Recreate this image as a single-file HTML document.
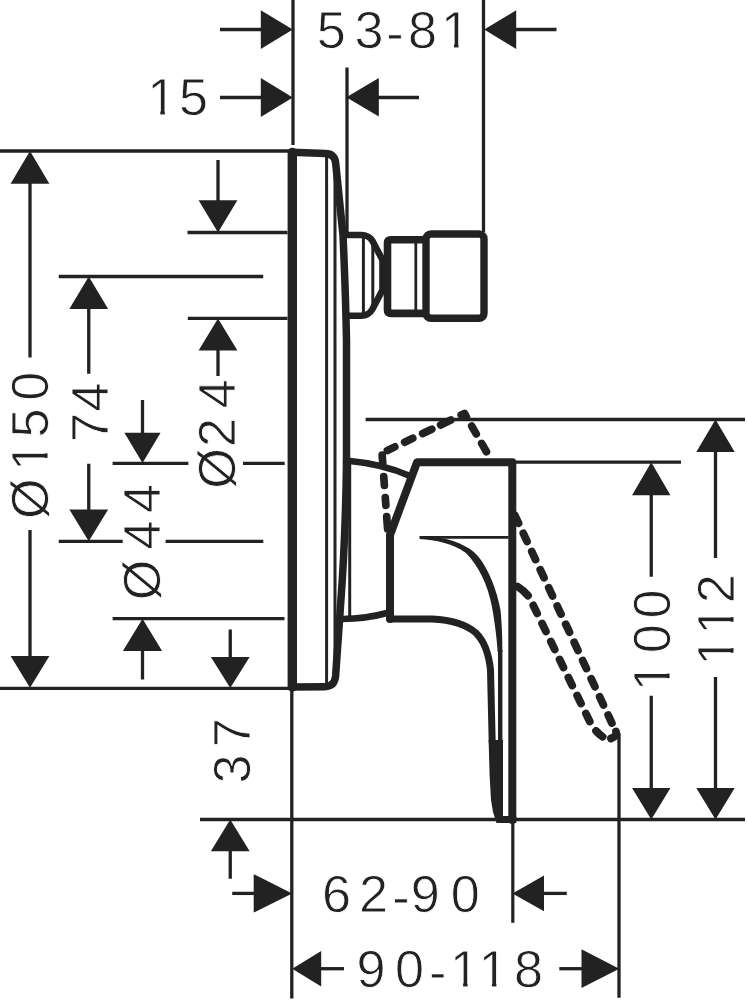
<!DOCTYPE html>
<html><head><meta charset="utf-8"><title>Dimension drawing</title>
<style>
html,body{margin:0;padding:0;background:#fff;}
svg{display:block;}
text{font-family:"Liberation Sans",sans-serif;font-size:52.2px;fill:#222;stroke:#fff;stroke-width:0.8px;}
</style></head><body>
<svg width="747" height="1000" viewBox="0 0 747 1000">
<rect width="747" height="1000" fill="#fff"/>
<line x1="293" y1="0" x2="293" y2="145" stroke="#222" stroke-width="3.3" stroke-linecap="butt"/>
<line x1="347" y1="67.5" x2="347" y2="233" stroke="#222" stroke-width="3.3" stroke-linecap="butt"/>
<line x1="483.5" y1="0" x2="483.5" y2="232" stroke="#222" stroke-width="3.3" stroke-linecap="butt"/>
<line x1="0" y1="151" x2="290" y2="151" stroke="#222" stroke-width="3.3" stroke-linecap="butt"/>
<line x1="187.5" y1="232.5" x2="287.5" y2="232.5" stroke="#222" stroke-width="3.3" stroke-linecap="butt"/>
<line x1="58.75" y1="276.5" x2="263.25" y2="276.5" stroke="#222" stroke-width="3.3" stroke-linecap="butt"/>
<line x1="187.8" y1="318.4" x2="287.5" y2="318.4" stroke="#222" stroke-width="3.3" stroke-linecap="butt"/>
<line x1="112.6" y1="463.4" x2="188.4" y2="463.4" stroke="#222" stroke-width="3.3" stroke-linecap="butt"/>
<line x1="243" y1="463.4" x2="284.7" y2="463.4" stroke="#222" stroke-width="3.3" stroke-linecap="butt"/>
<line x1="58.75" y1="541.3" x2="122.7" y2="541.3" stroke="#222" stroke-width="3.3" stroke-linecap="butt"/>
<line x1="165.6" y1="541.3" x2="263.3" y2="541.3" stroke="#222" stroke-width="3.3" stroke-linecap="butt"/>
<line x1="112.6" y1="618.6" x2="284.5" y2="618.6" stroke="#222" stroke-width="3.3" stroke-linecap="butt"/>
<line x1="0" y1="688.3" x2="290" y2="688.3" stroke="#222" stroke-width="3.3" stroke-linecap="butt"/>
<line x1="291.8" y1="688" x2="291.8" y2="998.5" stroke="#222" stroke-width="3.3" stroke-linecap="butt"/>
<line x1="200" y1="819.5" x2="745" y2="819.5" stroke="#222" stroke-width="3.3" stroke-linecap="butt"/>
<line x1="365.6" y1="419.5" x2="745" y2="419.5" stroke="#222" stroke-width="3.3" stroke-linecap="butt"/>
<line x1="513" y1="462.2" x2="681" y2="462.2" stroke="#222" stroke-width="3.3" stroke-linecap="butt"/>
<line x1="512.8" y1="822" x2="512.8" y2="922.8" stroke="#222" stroke-width="3.2" stroke-linecap="butt"/>
<line x1="619" y1="733" x2="619" y2="997.7" stroke="#222" stroke-width="3.3" stroke-linecap="butt"/>
<line x1="30" y1="183" x2="30" y2="357.5" stroke="#222" stroke-width="3.3" stroke-linecap="butt"/>
<line x1="30" y1="530" x2="30" y2="657" stroke="#222" stroke-width="3.3" stroke-linecap="butt"/>
<line x1="88.75" y1="308" x2="88.75" y2="373.75" stroke="#222" stroke-width="3.3" stroke-linecap="butt"/>
<line x1="88.75" y1="463.75" x2="88.75" y2="510" stroke="#222" stroke-width="3.3" stroke-linecap="butt"/>
<line x1="142.5" y1="400" x2="142.5" y2="433" stroke="#222" stroke-width="3.3" stroke-linecap="butt"/>
<line x1="142.5" y1="650" x2="142.5" y2="679.5" stroke="#222" stroke-width="3.3" stroke-linecap="butt"/>
<line x1="218" y1="160" x2="218" y2="201" stroke="#222" stroke-width="3.3" stroke-linecap="butt"/>
<line x1="218" y1="349" x2="218" y2="376" stroke="#222" stroke-width="3.3" stroke-linecap="butt"/>
<line x1="230.25" y1="629.5" x2="230.25" y2="658" stroke="#222" stroke-width="3.3" stroke-linecap="butt"/>
<line x1="230.25" y1="850" x2="230.25" y2="878.75" stroke="#222" stroke-width="3.3" stroke-linecap="butt"/>
<line x1="651.25" y1="494" x2="651.25" y2="576.75" stroke="#222" stroke-width="3.3" stroke-linecap="butt"/>
<line x1="651.25" y1="695.75" x2="651.25" y2="789" stroke="#222" stroke-width="3.3" stroke-linecap="butt"/>
<line x1="715.5" y1="451" x2="715.5" y2="558" stroke="#222" stroke-width="3.3" stroke-linecap="butt"/>
<line x1="715.5" y1="677" x2="715.5" y2="789" stroke="#222" stroke-width="3.3" stroke-linecap="butt"/>
<line x1="220" y1="29.5" x2="262" y2="29.5" stroke="#222" stroke-width="3.3" stroke-linecap="butt"/>
<line x1="515" y1="29.5" x2="556.5" y2="29.5" stroke="#222" stroke-width="3.3" stroke-linecap="butt"/>
<line x1="220" y1="97.5" x2="262" y2="97.5" stroke="#222" stroke-width="3.3" stroke-linecap="butt"/>
<line x1="378" y1="97.5" x2="419" y2="97.5" stroke="#222" stroke-width="3.3" stroke-linecap="butt"/>
<line x1="232.2" y1="893.4" x2="255" y2="893.4" stroke="#222" stroke-width="3.3" stroke-linecap="butt"/>
<line x1="543" y1="893.4" x2="566.8" y2="893.4" stroke="#222" stroke-width="3.3" stroke-linecap="butt"/>
<line x1="320" y1="968.7" x2="344" y2="968.7" stroke="#222" stroke-width="3.3" stroke-linecap="butt"/>
<line x1="559.3" y1="968.7" x2="583" y2="968.7" stroke="#222" stroke-width="3.3" stroke-linecap="butt"/>
<polygon points="292.8,29.6 260.8,10.200000000000003 260.8,49.0" fill="#222"/>
<polygon points="484.2,29.6 516.2,10.3 516.2,48.900000000000006" fill="#222"/>
<polygon points="292.8,97.5 260.8,77.9 260.8,117.1" fill="#222"/>
<polygon points="346.3,97.2 378.8,77.9 378.8,116.5" fill="#222"/>
<polygon points="30,151 10.600000000000001,183.75 49.4,183.75" fill="#222"/>
<polygon points="30,687.8 10.600000000000001,656.0999999999999 49.4,656.0999999999999" fill="#222"/>
<polygon points="88.75,276.5 69.35,309.1 108.15,309.1" fill="#222"/>
<polygon points="88.75,541.3 69.35,509.59999999999997 108.15,509.59999999999997" fill="#222"/>
<polygon points="142.5,463 124.4,432.7 160.6,432.7" fill="#222"/>
<polygon points="142.5,618.8 122.9,651.0 162.1,651.0" fill="#222"/>
<polygon points="218,232.5 198.6,200.3 237.4,200.3" fill="#222"/>
<polygon points="218,318.4 198.6,350.4 237.4,350.4" fill="#222"/>
<polygon points="230.25,688 210.85,657 249.65,657" fill="#222"/>
<polygon points="230.25,819.5 210.85,851.25 249.65,851.25" fill="#222"/>
<polygon points="651.25,462.2 632.05,495.2 670.45,495.2" fill="#222"/>
<polygon points="651.25,819.5 632.05,788.0 670.45,788.0" fill="#222"/>
<polygon points="715.5,419.5 696.3,452.0 734.7,452.0" fill="#222"/>
<polygon points="715.5,819.5 696.3,788.0 734.7,788.0" fill="#222"/>
<polygon points="292.2,893.4 253.7,874.1999999999999 253.7,912.6" fill="#222"/>
<polygon points="512.5,893.4 544.0,875.6 544.0,911.1999999999999" fill="#222"/>
<polygon points="292.2,968.7 321.2,950.9000000000001 321.2,986.5" fill="#222"/>
<polygon points="619.3,968.7 581.5,949.3000000000001 581.5,988.1" fill="#222"/>
<text x="331.3 369 395 422.5 455.4" y="47.9 47.9 51.1 47.9 47.9" text-anchor="middle">53-81</text>
<g  fill="#fff"><rect x="442.9" y="43.5" width="11.1" height="5.4"/><rect x="458.5" y="43.5" width="10.5" height="5.4"/></g>
<text x="161.7 193.6" y="115.3 115.3" text-anchor="middle">15</text>
<g  fill="#fff"><rect x="149.2" y="110.89999999999999" width="11.1" height="5.4"/><rect x="164.79999999999998" y="110.89999999999999" width="10.5" height="5.4"/></g>
<text x="336.4 373.5 401 425.25 465.25" y="911.6 911.6 914.8 911.6 911.6" text-anchor="middle">62-90</text>
<text x="371 409.6 437.75 464.5 493.3 528.5" y="986.6 986.6 989.8 986.6 986.6 986.6" text-anchor="middle">90-118</text>
<g  fill="#fff"><rect x="452.0" y="982.2" width="11.1" height="5.4"/><rect x="467.6" y="982.2" width="10.5" height="5.4"/></g>
<g  fill="#fff"><rect x="480.8" y="982.2" width="11.1" height="5.4"/><rect x="496.40000000000003" y="982.2" width="10.5" height="5.4"/></g>
<text transform="rotate(-90)" x="-498.75 -456.5 -423 -386.25" y="48" text-anchor="middle">Ø150</text>
<g transform="rotate(-90)" fill="#fff"><rect x="-469.0" y="43.6" width="11.1" height="5.4"/><rect x="-453.4" y="43.6" width="10.5" height="5.4"/></g>
<text transform="rotate(-90)" x="-427.5 -397" y="107.8" text-anchor="middle">74</text>
<text transform="rotate(-90)" x="-580 -535 -498.4" y="160.3" text-anchor="middle">Ø44</text>
<text transform="rotate(-90)" x="-468.5 -432.5 -393.75" y="235.3" text-anchor="middle">Ø24</text>
<text transform="rotate(-90)" x="-769 -732.75" y="249.6" text-anchor="middle">37</text>
<text transform="rotate(-90)" x="-676.75 -638.75 -604" y="670.3" text-anchor="middle">100</text>
<g transform="rotate(-90)" fill="#fff"><rect x="-689.25" y="665.9" width="11.1" height="5.4"/><rect x="-673.65" y="665.9" width="10.5" height="5.4"/></g>
<text transform="rotate(-90)" x="-651.3 -620.3 -588.75" y="734.3" text-anchor="middle">112</text>
<g transform="rotate(-90)" fill="#fff"><rect x="-663.8" y="729.9" width="11.1" height="5.4"/><rect x="-648.1999999999999" y="729.9" width="10.5" height="5.4"/></g>
<g transform="rotate(-90)" fill="#fff"><rect x="-632.8" y="729.9" width="11.1" height="5.4"/><rect x="-617.1999999999999" y="729.9" width="10.5" height="5.4"/></g>
<path d="M292.3,687 L292.3,152.5" fill="none" stroke="#222" stroke-width="9.4" stroke-linejoin="round" stroke-linecap="round" />
<path d="M292,152.2 L325,153.6 Q334.5,153.8 335.6,162.5 L343,235 Q345.5,290 346.5,340 L346.5,462" fill="none" stroke="#222" stroke-width="7.5" stroke-linejoin="round" stroke-linecap="round" />
<path d="M346.5,462 Q345.5,540 340.5,606 L335.6,676 Q334.6,686.5 325,686.7 L292,687" fill="none" stroke="#222" stroke-width="7.5" stroke-linejoin="round" stroke-linecap="round" />
<line x1="326.6" y1="154" x2="326.6" y2="686" stroke="#222" stroke-width="3" stroke-linecap="butt"/>
<line x1="335" y1="163" x2="335" y2="676" stroke="#222" stroke-width="3" stroke-linecap="butt"/>
<line x1="349.7" y1="462" x2="349.7" y2="617" stroke="#222" stroke-width="3" stroke-linecap="butt"/>
<path d="M346,235 L361,235 Q369,235 372.5,241 L382.5,260 L382.5,290 L372.5,309 Q369,315.5 361,315.8 L346,315.8" fill="none" stroke="#222" stroke-width="6.6" stroke-linejoin="round" stroke-linecap="round" />
<line x1="363.4" y1="238" x2="363.4" y2="313" stroke="#222" stroke-width="3" stroke-linecap="butt"/>
<line x1="372.8" y1="243" x2="372.8" y2="305.5" stroke="#222" stroke-width="3" stroke-linecap="butt"/>
<path d="M424,239.8 L391,239.8 Q387.5,239.8 387.5,243 L387.5,310 Q387.5,313.4 391,313.4 L424,313.4" fill="none" stroke="#222" stroke-width="7.6" stroke-linejoin="round" stroke-linecap="round" />
<line x1="415.8" y1="243" x2="415.8" y2="310" stroke="#222" stroke-width="2.8" stroke-linecap="butt"/>
<rect x="426" y="234" width="58" height="84.3" rx="5" fill="none" stroke="#222" stroke-width="7.4"/>
<path d="M350,461 Q383,464 410,476" fill="none" stroke="#222" stroke-width="6.5" stroke-linejoin="round" stroke-linecap="round" />
<path d="M342,619 Q366,618.8 389,612.5" fill="none" stroke="#222" stroke-width="6.5" stroke-linejoin="round" stroke-linecap="round" />
<path d="M390,619 L390,535 L417,462.3 L512.3,462.3 L512.3,820" fill="none" stroke="#222" stroke-width="8" stroke-linejoin="round" stroke-linecap="round" />
<path d="M390,619 L432,619 Q462,620.5 476,633 Q488,645 490.5,670 L492.2,742" fill="none" stroke="#222" stroke-width="7" stroke-linejoin="round" stroke-linecap="round" />
<path d="M419.5,536 C440,536.5 456,540 470,549 C484,558 496,585 500.5,610 C502,625 502.4,640 502.4,652 L497.6,652 C497,640 494.8,622 491.8,606 C487.8,585 479,566.5 466,553 C452,543 436,540 419.5,539 Z" fill="#222"/>
<line x1="500.2" y1="650" x2="500.2" y2="744" stroke="#222" stroke-width="4.4" stroke-linecap="butt"/>
<line x1="420" y1="537.4" x2="508.5" y2="537.4" stroke="#222" stroke-width="2.8" stroke-linecap="butt"/>
<path d="M488.6,740 L489.6,775 L491,800 L493,812 L496.5,823 L516.3,823 L516.3,816 L503,816 L503,740 Z" fill="#222"/>
<path d="M387.6,529 L382,453 L464.5,413.5 L488.3,455" fill="none" stroke="#222" stroke-width="7.7" stroke-linejoin="round" stroke-linecap="round" stroke-dasharray="12.5 11.2 7.8 12.2 8.8 14 7.5 8.2 8.2 10.9 9 11 10.1 9.8 11.3 11.5 7.5 10.7 9 11 9.6 100" stroke-dashoffset="0"/>
<path d="M515,515.6 L615.6,731" fill="none" stroke="#222" stroke-width="7.8" stroke-linejoin="round" stroke-linecap="round" stroke-dasharray="8.8 11.25" stroke-dashoffset="0.4"/>
<path d="M616,731.5 Q617.5,736 611,738.5" fill="none" stroke="#222" stroke-width="7.8" stroke-linejoin="round" stroke-linecap="round" />
<path d="M517.5,586.5 Q524,590.5 529.2,597 L590,722 Q597,735 607,739" fill="none" stroke="#222" stroke-width="7.8" stroke-linejoin="round" stroke-linecap="round" stroke-dasharray="14 11.15 8.8 11.25 8.8 11.25 8.8 11.25 8.8 11.25 8.8 11.25 8.8 11.25 8.8 11.25 8.8 11.25 8.8 11.25 8.8 11.25 8.8 11.25 8.8 11.25" stroke-dashoffset="0"/>
</svg>
</body></html>
